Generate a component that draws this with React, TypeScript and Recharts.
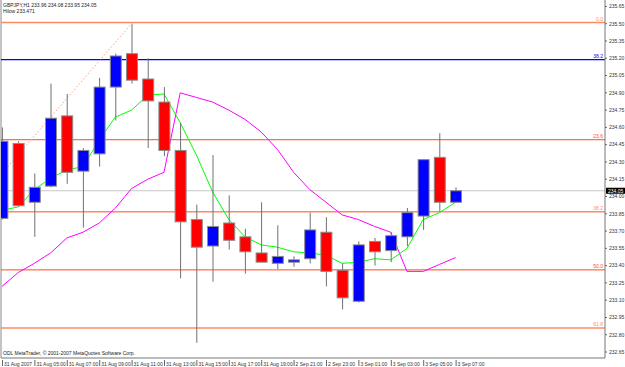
import React from 'react';
import { ComposedChart, Bar, Line, XAxis, YAxis, ReferenceLine } from 'recharts';

// ---- data ----
const barIndex = [0,1,2,3,4,5,6,7,8,9,10,11,12,13,14,15,16,17,18,19,20,21,22,23,24,25,26,27,28];
const opens  = [233.81,234.46,233.95,234.09,234.70,234.22,234.37,234.95,235.24,235.02,234.82,234.40,233.80,233.57,233.77,233.65,233.51,233.42,233.43,233.46,233.69,233.36,233.09,233.61,233.53,233.65,233.83,234.34,233.95];
const highs  = [234.60,234.48,234.20,234.98,234.89,234.42,235.03,235.24,235.50,235.20,234.95,234.64,233.93,234.36,234.01,233.72,233.95,233.75,233.48,233.86,233.82,233.42,233.61,233.64,233.69,233.90,234.32,234.55,234.08];
const lows   = [233.80,233.91,233.65,234.08,234.11,233.73,234.26,234.66,234.98,234.42,234.35,233.29,232.73,233.26,233.54,233.33,233.43,233.37,233.39,233.42,233.22,233.02,233.08,233.40,233.43,233.57,233.71,233.87,233.95];
const closes = [234.48,233.92,234.08,234.68,234.21,234.40,234.95,235.22,235.01,234.83,234.40,233.78,233.56,233.74,233.62,233.52,233.43,233.48,233.45,233.71,233.35,233.12,233.58,233.52,233.66,233.86,234.32,233.95,234.05];
const fastMA = [233.88,233.91,234.06,234.16,234.23,234.26,234.49,234.69,234.75,234.88,234.89,234.64,234.36,234.04,233.80,233.65,233.58,233.56,233.52,233.51,233.49,233.42,233.43,233.46,233.45,233.55,233.80,233.86,233.95];
const hiloLine = [233.22,233.34,233.42,233.51,233.64,233.69,233.77,233.90,234.07,234.15,234.21,234.90,234.86,234.82,234.75,234.67,234.56,234.41,234.21,234.06,233.95,233.84,233.80,233.74,233.69,233.35,233.35,233.41,233.47];

const xTickIdx = [0,2,4,6,8,10,12,14,16,18,20,22,24,26,28];
const xTickLabels = ['31 Aug 2007','31 Aug 05:00','31 Aug 07:00','31 Aug 09:00','31 Aug 11:00','31 Aug 13:00','31 Aug 15:00','31 Aug 17:00','31 Aug 19:00','2 Sep 21:00','2 Sep 23:00','3 Sep 01:00','3 Sep 03:00','3 Sep 05:00','3 Sep 07:00'];
const yTicks = [232.65,232.80,232.95,233.10,233.25,233.40,233.55,233.70,233.85,234.00,234.15,234.30,234.45,234.60,234.75,234.90,235.05,235.20,235.35,235.50,235.65];

const fibLevels = ['0.0','23.6','38.2','50.0','61.8'];
const fibPrices = [235.511,234.493,233.867,233.363,232.859];
const fibColors = ['#FF8A60','#FF4A1A','#FF8A60','#FF4A1A','#FF8A60'];
const blueLevelLabel = '38.2';
const blueLevelPrice = 235.189;
const currentPrice = 234.05;
const trendStart = { x: -0.062, y: 234.19 };
const trendEnd = { x: 8, y: 235.502 };

const headerLine1 = 'GBPJPY,H1  233.96 234.08 233.95 234.05';
const headerLine2 = 'Hilow 233.471';
const footerText = 'ODL MetaTrader, \u00A9 2001-2007 MetaQuotes Software Corp.';

const data = barIndex.map((i, k) => ({
  i,
  open: opens[k],
  high: highs[k],
  low: lows[k],
  close: closes[k],
  range: [lows[k], highs[k]],
  ma: fastMA[k],
  hl: hiloLine[k],
}));

const FONT = '"Liberation Sans", Arial, sans-serif';

const Candle = (props: any) => {
  const { x, y, width, height, payload } = props;
  if (x == null || y == null) return null;
  const cx = x + width / 2;
  const top = Math.min(y, y + height);
  const h = Math.abs(height);
  const { open, close, high, low } = payload;
  const rng = high - low;
  const py = (v: number) => (rng === 0 ? top : top + ((high - v) / rng) * h);
  const bTop = py(Math.max(open, close));
  const bBot = py(Math.min(open, close));
  const bull = close >= open;
  return (
    <g>
      <line x1={cx} x2={cx} y1={top} y2={top + h} stroke="#707070" strokeWidth={1} />
      <rect x={cx - 5.5} y={bTop} width={11} height={Math.max(1, bBot - bTop)} fill={bull ? '#0000FF' : '#FF0000'} stroke="#8c8c8c" strokeWidth={1} />
    </g>
  );
};

const XTick = (props: any) => {
  const { x, y, payload } = props;
  const k = xTickIdx.indexOf(payload.value);
  return (
    <g>
      <line x1={x + 0.5} x2={x + 0.5} y1={y + 2} y2={y + 8} stroke="#666" strokeWidth={1} />
      <text x={x + 2} y={y + 7.5} fontSize={5} fontFamily={FONT} fill="#333">{xTickLabels[k]}</text>
    </g>
  );
};

const YTick = (props: any) => {
  const { x, y, payload } = props;
  return (
    <g>
      <line x1={x} x2={x + 2} y1={y} y2={y} stroke="#666" strokeWidth={1} />
      <text x={x + 4} y={y + 1.8} fontSize={5} fontFamily={FONT} fill="#333">{Number(payload.value).toFixed(2)}</text>
    </g>
  );
};

const LevelLabel = (props: any) => {
  const { viewBox, text, color } = props;
  if (!viewBox) return null;
  return (
    <text x={viewBox.x + viewBox.width - 2} y={viewBox.y - 1.5} fontSize={5} fontFamily={FONT} fill={color} textAnchor="end">{text}</text>
  );
};

const PriceBox = (props: any) => {
  const { viewBox } = props;
  if (!viewBox) return null;
  const x0 = viewBox.x + viewBox.width + 1;
  return (
    <g>
      <rect x={x0} y={viewBox.y - 3} width={20} height={6} fill="#000" />
      <text x={x0 + 2} y={viewBox.y + 1.8} fontSize={5} fontFamily={FONT} fill="#fff">{currentPrice.toFixed(2)}</text>
    </g>
  );
};

export default function App() {
  return (
    <div style={{ position: 'absolute', left: 0, top: 0, width: 625, height: 367, background: '#fff', overflow: 'hidden' }}>
      <ComposedChart width={625} height={367} data={data} margin={{ top: 0, right: 0, bottom: 0, left: 1 }}>
        <XAxis
          type="number"
          dataKey="i"
          domain={[-0.062, 37.222]}
          allowDataOverflow
          ticks={xTickIdx}
          interval={0}
          height={9}
          tickSize={0}
          tickMargin={0}
          tickLine={false}
          axisLine={{ stroke: '#777' }}
          tick={<XTick />}
        />
        <YAxis
          orientation="right"
          width={20}
          domain={[232.598, 235.706]}
          allowDataOverflow
          ticks={yTicks}
          interval={0}
          tickSize={0}
          tickMargin={0}
          tickLine={false}
          axisLine={{ stroke: '#777' }}
          tick={<YTick />}
        />
        <ReferenceLine x={-0.062} stroke="#888" zIndex={50} />
        <ReferenceLine y={currentPrice} stroke="#C8C8C8" zIndex={50} label={<PriceBox />} />
        {fibPrices.map((p, k) => (
          <ReferenceLine key={k} y={p} stroke={fibColors[k]} strokeWidth={k % 2 === 0 ? 1.5 : 1} zIndex={50}
            label={<LevelLabel text={fibLevels[k]} color={fibColors[k]} />} />
        ))}
        <ReferenceLine y={blueLevelPrice} stroke="#0000FF" strokeWidth={1.3} zIndex={50}
          label={<LevelLabel text={blueLevelLabel} color="#0000FF" />} />
        <ReferenceLine segment={[trendStart, trendEnd]} stroke="#FF9A80" strokeDasharray="1.5 2" zIndex={50} ifOverflow="visible" />
        <Line dataKey="hl" stroke="#FF00FF" strokeWidth={1} dot={false} isAnimationActive={false} />
        <Line dataKey="ma" stroke="#00FF00" strokeWidth={1} dot={false} isAnimationActive={false} />
        <Bar dataKey="range" barSize={11} shape={<Candle />} isAnimationActive={false} zIndex={450} />
      </ComposedChart>
      <svg width={625} height={367} style={{ position: 'absolute', left: 0, top: 0, pointerEvents: 'none' }}>
        <text x={3} y={7} fontSize={5} fontFamily={FONT} fill="#222">{headerLine1}</text>
        <text x={3} y={13} fontSize={5} fontFamily={FONT} fill="#222">{headerLine2}</text>
        <text x={3} y={355} fontSize={5} fontFamily={FONT} fill="#222">{footerText}</text>
      </svg>
    </div>
  );
}
